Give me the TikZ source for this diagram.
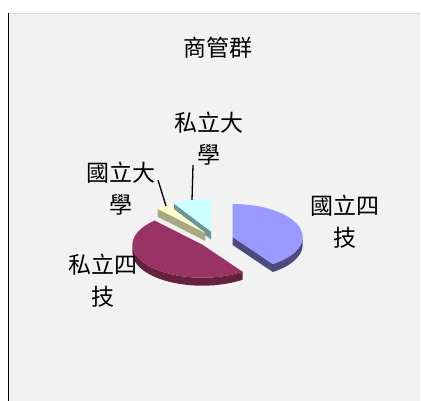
\documentclass[tikz,border=0pt]{standalone}
\usepackage{fontspec}
\newfontfamily\cjkfont{Noto Sans CJK TC}

\definecolor{panelgray}{HTML}{F2F2F2}
\definecolor{blueTop}{HTML}{9999FF}
\definecolor{blueSide}{HTML}{4B4B7D}
\definecolor{maroonTop}{HTML}{993366}
\definecolor{maroonSide}{HTML}{66213F}
\definecolor{yellowTop}{HTML}{FFFFCC}
\definecolor{yellowSide}{HTML}{A8A884}
\definecolor{cyanTop}{HTML}{CCFFFF}
\definecolor{cyanSide}{HTML}{6E9696}

\begin{document}
\begin{tikzpicture}[x=1pt,y=-1pt,
  lbl/.style={font=\cjkfont\fontsize{23}{32}\selectfont,align=center,inner sep=0pt},
  leader/.style={line width=1.3pt}]
\useasboundingbox (0,0) rectangle (421,401);
\fill[white] (0,0) rectangle (421,401);
\fill[panelgray] (8,13) rectangle (420,401);
\draw[black!15] (8,13.5) -- (420,13.5);
\draw[line width=1.2pt] (8.6,13) -- (8.6,401);

\node[lbl] (title) at (218,48) {商管群};

% pie: centre (216,239.5), exploded slices
\begin{scope}[shift={(216pt,-239.5pt)},x=70pt,y=33pt]
\begin{scope}[shift={(106:0.25)}] % 私立大學
\fill[cyanSide] (0,0) -- (122:1) -- ++(0pt,-8pt) -- (0pt,-8pt) -- cycle;
\fill[cyanTop] (0,0) -- (122:1) arc[start angle=122,end angle=90,radius=1] -- cycle;
\end{scope}
\begin{scope}[shift={(127.5:0.25)}] % 國立大學
\fill[yellowSide] (0,0) -- (133:1) -- ++(0pt,-8pt) -- (0pt,-8pt) -- cycle;
\fill[yellowTop] (0,0) -- (133:1) arc[start angle=133,end angle=122,radius=1] -- cycle;
\end{scope}
\begin{scope}[shift={(17.5:0.25)}] % 國立四技
\fill[blueSide] (0:1) arc[start angle=0,end angle=-55,radius=1] -- ++(0pt,-8pt)
  arc[start angle=-55,end angle=0,radius=1] -- cycle;
\fill[blueSide] (0,0) -- (-55:1) -- ++(0pt,-8pt) -- (0pt,-8pt) -- cycle;
\fill[blueTop] (0,0) -- (90:1) arc[start angle=90,end angle=-55,radius=1] -- cycle;
\end{scope}
\begin{scope}[shift={(-141:0.25)}] % 私立四技
\fill[maroonSide] (180:1) arc[start angle=180,end angle=305,radius=1] -- ++(0pt,-8pt)
  arc[start angle=305,end angle=180,radius=1] -- cycle;
\fill[maroonTop] (0,0) -- (133:1) arc[start angle=133,end angle=305,radius=1] -- cycle;
\end{scope}
\end{scope}

\node[lbl] (lblGL) at (345,222) {國立四\\技};
\node[lbl] (lblPL) at (103,281) {私立四\\技};
\node[lbl] (lblGU) at (121,189) {國立大\\學};
\node[lbl] (lblPU) at (209,139) {私立大\\學};

\coordinate (endGU) at (158,180);
\coordinate (tipGU) at (166,206);
\coordinate (endPU) at (193,165);
\coordinate (tipPU) at (192,200);
\draw[leader] (endGU) -- (tipGU);
\draw[leader] (endPU) -- (tipPU);
\end{tikzpicture}
\end{document}
